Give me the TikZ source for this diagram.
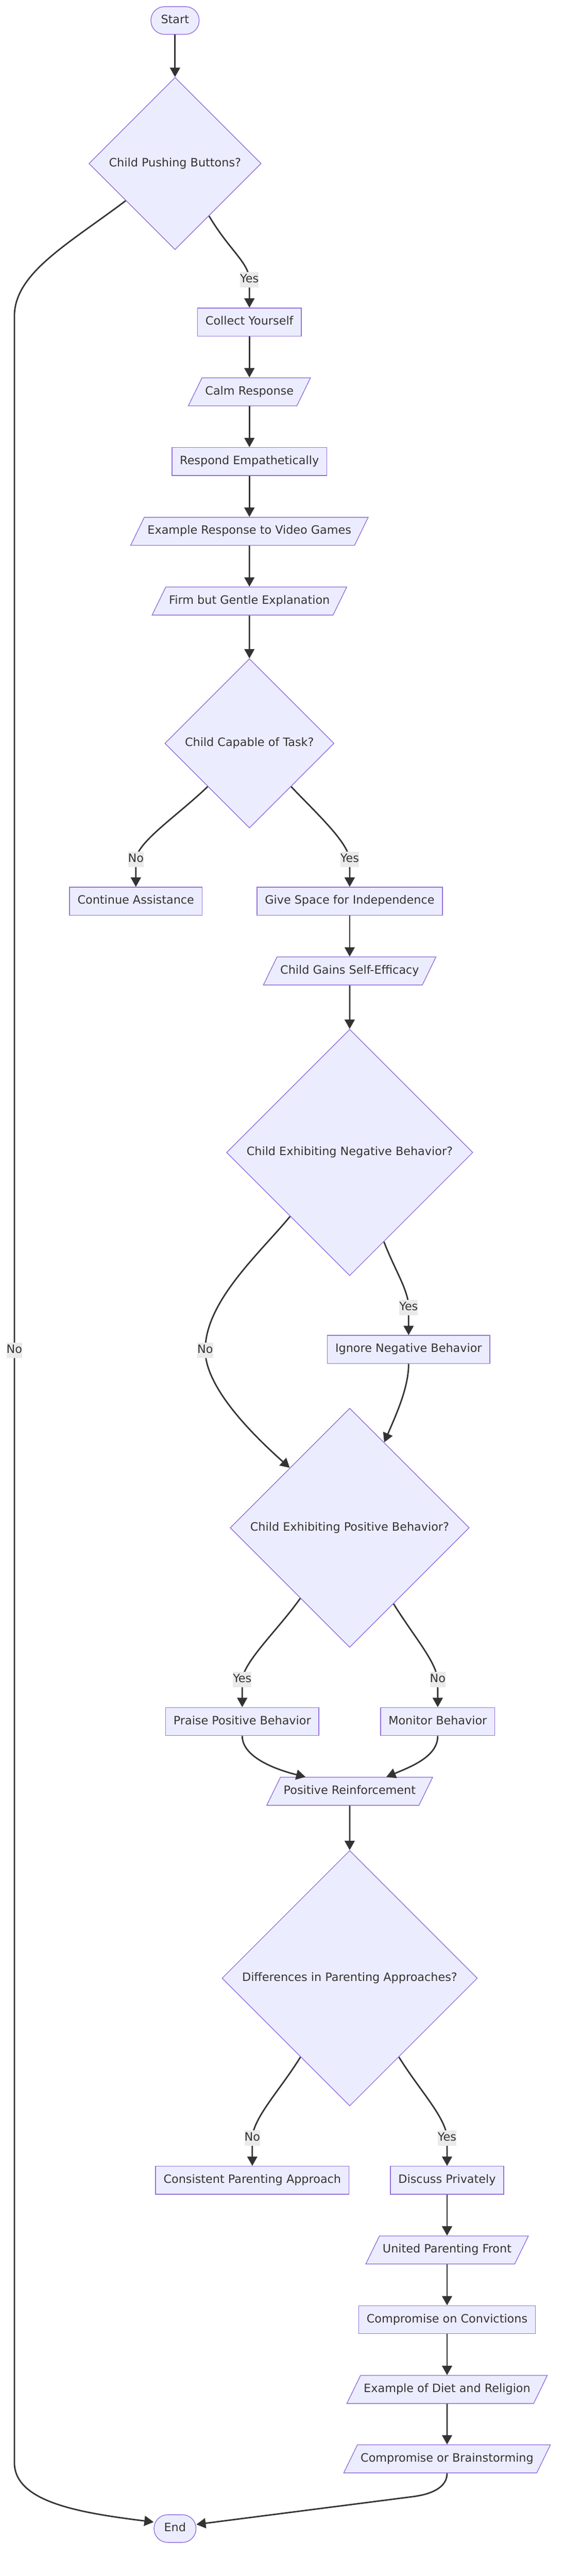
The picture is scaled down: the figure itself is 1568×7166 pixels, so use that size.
\documentclass[tikz,border=0pt]{standalone}
\usepackage{fontspec}
\setmainfont{DejaVu Sans}
\usepackage{xcolor}
\usetikzlibrary{arrows.meta, shapes.geometric}
\definecolor{nodefill}{HTML}{ECECFF}
\definecolor{nodeline}{HTML}{9370DB}
\definecolor{edgeline}{HTML}{333333}
\definecolor{lblfill}{HTML}{EAEAEA}
\definecolor{txt}{HTML}{333333}

\begin{document}
\begin{tikzpicture}[x=1pt,y=-1pt,
    every node/.style={font=\fontsize{32}{38}\selectfont, text=txt, text height=24pt, text depth=8pt},
    proc/.style={draw=nodeline, fill=nodefill, line width=2pt, rectangle, inner xsep=22pt, inner ysep=23pt},
    io/.style={draw=nodeline, fill=nodefill, line width=2pt, trapezium, trapezium left angle=64, trapezium right angle=116, inner xsep=9pt, inner ysep=23pt},
    dec/.style={draw=nodeline, fill=nodefill, line width=2pt, diamond, aspect=1, inner sep=20pt},
    term/.style={draw=nodeline, fill=nodefill, line width=2pt, rectangle, rounded corners=38pt, inner xsep=28pt, inner ysep=22.5pt},
    edgelbl/.style={fill=lblfill, inner xsep=0pt, inner ysep=5.5pt},
    flow/.style={draw=edgeline, line width=4pt}]
  \tikzset{>={Triangle[width=28pt,length=26pt]}}
  \path[use as bounding box, fill=white] (0,0) rectangle (1568,7166);

  % nodes
  \node[term] (start) at (487,57) {Start};
  \node[dec] (d1) at (487,455) {Child Pushing Buttons?};
  \node[proc] (collect) at (694,896) {Collect Yourself};
  \node[io] (calm) at (694,1090) {Calm Response};
  \node[proc] (respond) at (694,1284) {Respond Empathetically};
  \node[io] (exvideo) at (694,1478) {Example Response to Video Games};
  \node[io] (firm) at (694,1672) {Firm but Gentle Explanation};
  \node[dec] (d2) at (694,2068) {Child Capable of Task?};
  \node[proc] (contassist) at (378,2507) {Continue Assistance};
  \node[proc] (givespace) at (973,2507) {Give Space for Independence};
  \node[io] (gains) at (973,2701) {Child Gains Self-Efficacy};
  \node[dec] (d3) at (973,3206) {Child Exhibiting Negative Behavior?};
  \node[proc] (ignore) at (1137,3754) {Ignore Negative Behavior};
  \node[dec] (d4) at (973,4250) {Child Exhibiting Positive Behavior?};
  \node[proc] (praise) at (674,4789) {Praise Positive Behavior};
  \node[proc] (monitor) at (1218,4789) {Monitor Behavior};
  \node[io] (posreinf) at (973,4983) {Positive Reinforcement};
  \node[dec] (d5) at (973,5503) {Differences in Parenting Approaches?};
  \node[proc] (consistent) at (702,6065) {Consistent Parenting Approach};
  \node[proc] (discuss) at (1244,6065) {Discuss Privately};
  \node[io] (united) at (1244,6259) {United Parenting Front};
  \node[proc] (convictions) at (1244,6453) {Compromise on Convictions};
  \node[io] (diet) at (1244,6647) {Example of Diet and Religion};
  \node[io] (brainstorm) at (1244,6840) {Compromise or Brainstorming};
  \node[term] (finish) at (487,7034) {End};

  % straight connectors
  \draw[flow,->] (start) -- (d1);
  \draw[flow,->] (collect) -- (calm);
  \draw[flow,->] (calm) -- (respond);
  \draw[flow,->] (respond) -- (exvideo);
  \draw[flow,->] (exvideo) -- (firm);
  \draw[flow,->] (firm) -- (d2);
  \draw[flow,->] (givespace) -- (gains);
  \draw[flow,->] (gains) -- (d3);
  \draw[flow,->] (posreinf) -- (d5);
  \draw[flow,->] (discuss) -- (united);
  \draw[flow,->] (united) -- (convictions);
  \draw[flow,->] (convictions) -- (diet);
  \draw[flow,->] (diet) -- (brainstorm);

  % decisions
  \draw[flow,->] (d1.-57) .. controls (638,696) and (692,730) .. (694,778) node[edgelbl] {Yes} -- (collect);
  \draw[flow,->] (d1.-143) .. controls (188,680) and (40,760) .. (40,880) -- (40,3756) node[edgelbl] {No}
    -- (40,6850) .. controls (40,6960) and (220,6990) .. (finish.163);
  \draw[flow,->] (d2.-134) .. controls (490,2272) and (385,2340) .. (378,2390) node[edgelbl] {No} -- (contassist);
  \draw[flow,->] (d2.-46) .. controls (880,2262) and (966,2340) .. (973,2390) node[edgelbl] {Yes} -- (givespace);
  \draw[flow,->] (d3.-69) .. controls (1099,3534) and (1137,3590) .. (1137,3637) node[edgelbl] {Yes} -- (ignore);
  \draw[flow,->] (d3.-133) .. controls (722,3487) and (571,3620) .. (571,3756) node[edgelbl] {No}
    .. controls (571,3860) and (703,3991) .. (d4.135);
  \draw[flow,->] (ignore.south) .. controls (1137,3860) and (1102,3936) .. (d4.68);
  \draw[flow,->] (d4.-125) .. controls (774,4533) and (680,4620) .. (674,4672) node[edgelbl] {Yes} -- (praise);
  \draw[flow,->] (d4.-60) .. controls (1152,4553) and (1212,4620) .. (1218,4672) node[edgelbl] {No} -- (monitor);
  \draw[flow,->] (praise.south) .. controls (674,4890) and (773,4924) .. ([xshift=-123pt]posreinf.north);
  \draw[flow,->] (monitor.south) .. controls (1218,4885) and (1148,4913) .. ([xshift=102pt]posreinf.north);
  \draw[flow,->] (d5.-122) .. controls (781,5812) and (705,5890) .. (702,5947) node[edgelbl] {No} -- (consistent);
  \draw[flow,->] (d5.-58) .. controls (1165,5812) and (1241,5890) .. (1244,5947) node[edgelbl] {Yes} -- (discuss);
  \draw[flow,->] (brainstorm.south) .. controls (1244,6915) and (1210,6937) .. (1150,6945) -- (finish.11);
\end{tikzpicture}
\end{document}
